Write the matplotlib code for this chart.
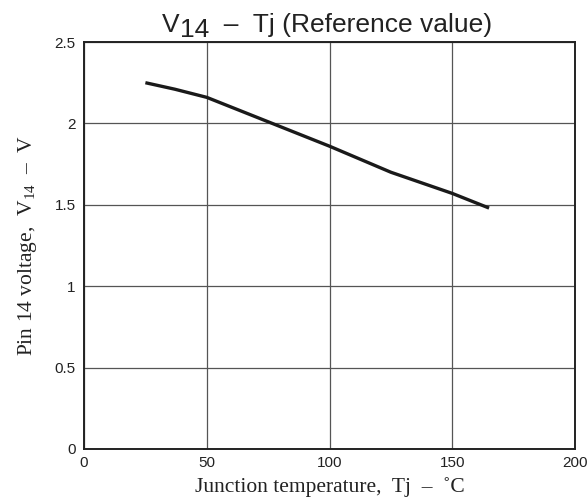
import matplotlib
matplotlib.use("Agg")
import matplotlib.pyplot as plt

tj = [25, 37, 50, 60, 75, 100, 125, 150, 165]
v14 = [2.25, 2.21, 2.16, 2.10, 2.01, 1.86, 1.70, 1.57, 1.48]
xticks = [0, 50, 100, 150, 200]
yticks = [0, 0.5, 1, 1.5, 2, 2.5]
ytick_labels = ["0", "0.5", "1", "1.5", "2", "2.5"]

plt.rcParams['mathtext.fontset'] = 'custom'
plt.rcParams['mathtext.rm'] = 'Liberation Serif'
plt.rcParams['mathtext.it'] = 'Liberation Serif'

W, H = 587, 500
fig = plt.figure(figsize=(W/100, H/100), dpi=100)
ax = fig.add_axes([84/W, 1-449/H, (575-84)/W, (449-42)/H])

ax.plot(tj, v14, color='#1a1a1a', linewidth=2.4, solid_capstyle='butt')
ax.set_xlim(0, 200)
ax.set_ylim(0, 2.5)
ax.set_xticks(xticks)
ax.set_xticklabels([str(t) for t in xticks])
ax.set_yticks(yticks)
ax.set_yticklabels(ytick_labels)
ax.grid(True, color='#555555', linewidth=0.9)
ax.tick_params(axis='x', length=0, labelsize=11, pad=5)
ax.tick_params(axis='y', length=0, labelsize=11, pad=6)
for lab in ax.get_xticklabels() + ax.get_yticklabels():
    lab.set_family('Liberation Sans')
    lab.set_color('#222222')
for s in ax.spines.values():
    s.set_linewidth(1.4)
    s.set_color('#222222')

# Title composed of pieces: V, lowered 14, rest
tfs = 19
fig.canvas.draw()
r = fig.canvas.get_renderer()
x0 = 161.5 / W
yb = 1 - 32 / H
t1 = fig.text(x0, yb, 'V', fontsize=tfs, family='Liberation Sans', color='#222222', va='baseline')
w1 = t1.get_window_extent(r).width
t2 = fig.text(x0 + (w1 + 1) / W, yb - 5 / H, '14', fontsize=tfs, family='Liberation Sans',
              color='#222222', va='baseline')
w2 = t2.get_window_extent(r).width
fig.text(x0 + (w1 + 1 + w2) / W, yb, '  –  Tj (Reference value)', fontsize=tfs,
         family='Liberation Sans', color='#222222', va='baseline')

ax.set_xlabel('Junction temperature,  Tj  –  ˚C', family='Liberation Serif',
              fontsize=15.5, labelpad=5, color='#222222')
ax.set_ylabel(r'Pin 14 voltage,  V$_{\mathregular{14}}$  –  V', family='Liberation Serif',
              fontsize=15.5, labelpad=11, color='#222222')

fig.savefig('out.png', dpi=100)
